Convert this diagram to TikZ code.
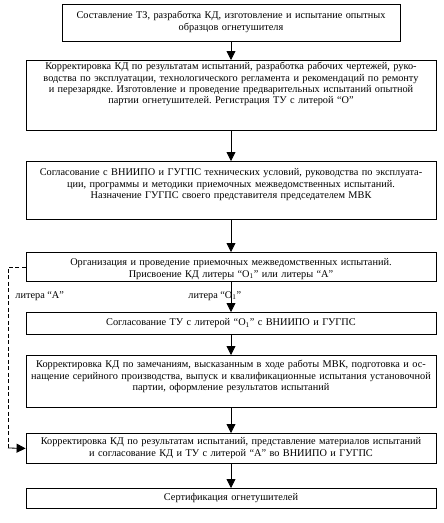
\documentclass[tikz,border=0pt]{standalone}
\usepackage{fontspec}
\setmainfont{Liberation Serif}
\usetikzlibrary{arrows.meta}
\frenchspacing

\begin{document}
\begin{tikzpicture}[x=1pt,y=-1pt,line width=0.8pt,font=\fontsize{10.3}{11.3}\selectfont]
    \tikzstyle{box}=[draw, anchor=north, align=center, inner xsep=1pt, inner ysep=0pt, text width=408pt]
    \tikzstyle{small box}=[box, text width=336pt]
    \tikzstyle{arr}=[-{Triangle[length=9pt,width=9pt]}]
    \tikzstyle{back arr}=[dash pattern=on 4pt off 2.5pt]
    \tikzstyle{litera}=[inner sep=0pt]

    \useasboundingbox (0,0) rectangle (444,523);

    % boxes, top to bottom
    \node[small box, text height=14.5pt, text depth=22.5pt] (b1) at (231,4)
        {Составление ТЗ, разработка КД, изготовление и испытание опытных\\
         образцов огнетушителя};
    \node[box, text height=9.5pt, text depth=60.5pt] (b2) at (231,60)
        {Корректировка КД по результатам испытаний, разработка рабочих чертежей, руко-\\
         водства по эксплуатации, технологического регламента и рекомендаций по ремонту\\
         и перезарядке. Изготовление и проведение предварительных испытаний опытной\\
         партии огнетушителей. Регистрация ТУ с литерой “О”};
    \node[box, text height=14.5pt, text depth=43.5pt] (b3) at (231,161)
        {Согласование с ВНИИПО и ГУГПС технических условий, руководства по эксплуата-\\
         ции, программы и методики приемочных межведомственных испытаний.\\
         Назначение ГУГПС своего представителя председателем МВК};
    \node[box, text height=13.5pt, text depth=15.5pt] (b4) at (231,252)
        {Организация и проведение приемочных межведомственных испытаний.\\
         Присвоение КД литеры “О\textsubscript{1}” или литеры “А”};
    \node[box, text height=13.5pt, text depth=8.5pt] (b5) at (231,312)
        {Согласование ТУ с литерой “О\textsubscript{1}” с ВНИИПО и ГУГПС};
    \node[box, text height=12.5pt, text depth=39.5pt] (b6) at (231,355)
        {Корректировка КД по замечаниям, высказанным в ходе работы МВК, подготовка и ос-\\
         нащение серийного производства, выпуск и квалификационные испытания установочной\\
         партии, оформление результатов испытаний};
    \node[box, text height=11.5pt, text depth=18.5pt] (b7) at (231,433)
        {Корректировка КД по результатам испытаний, представление материалов испытаний\\
         и согласование КД и ТУ с литерой “А” во ВНИИПО и ГУГПС};
    \node[box, text height=12.5pt, text depth=7.5pt] (b8) at (231,488)
        {Сертификация огнетушителей};

    % branch labels
    \node[litera, anchor=west] (lA) at (15,296) {литера “А”};
    \node[litera, anchor=west] (lO) at (188,296) {литера “О\textsubscript{1}”};

    \foreach \source/\dest in {b1/b2,b2/b3,b3/b4,b4/b5,b5/b6,b6/b7,b7/b8}
        \draw[arr] (\source) -- (\dest);

    % dashed way round for "A"
    \coordinate (dA) at (8,448);
    \draw[back arr] (b4.west) -| (dA);
    \draw[arr] (dA) -- (b7.west);
\end{tikzpicture}
\end{document}
